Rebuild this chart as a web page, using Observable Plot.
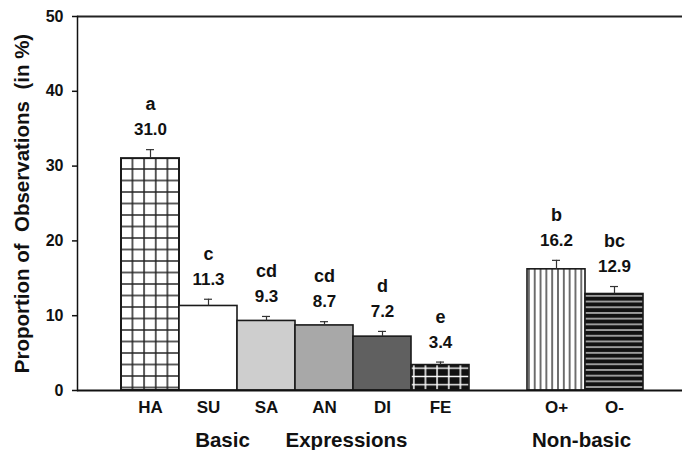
<!DOCTYPE html>
<html><head><meta charset="utf-8">
<script src="https://cdn.jsdelivr.net/npm/d3@7"></script>
<script src="https://cdn.jsdelivr.net/npm/@observablehq/plot@0.6"></script>
<style>body{margin:0;background:#fff}</style>
</head><body><div id="chart"></div>
<script>
const categories = ["HA","SU","SA","AN","DI","FE","O+","O-"];
const values = [31.0, 11.3, 9.3, 8.7, 7.2, 3.4, 16.2, 12.9];
const errors = [1.2, 0.9, 0.6, 0.5, 0.7, 0.4, 1.2, 1.0];
const letters = ["a","c","cd","cd","d","e","b","bc"];
const yTicks = [0, 10, 20, 30, 40, 50];
const yLabel = "Proportion of  Observations  (in %)";
const groupLabels = ["Basic", "Expressions", "Non-basic"];

const data = categories.map((c, i) => ({cat: c, value: values[i], err: errors[i], letter: letters[i]}));
const domain = [...categories.slice(0, 6), " ", ...categories.slice(6)];
const fillFor = {HA: "url(#p-grid)", SU: "#ffffff", SA: "#cecece", AN: "#a8a8a8", DI: "#606060",
  FE: "url(#p-dgrid)", "O+": "url(#p-vert)", "O-": "url(#p-horz)"};
const font = "'Liberation Sans', Arial, Helvetica, sans-serif";

const plot = Plot.plot({
  width: 682, height: 450,
  marginLeft: 77, marginRight: 0, marginTop: 16, marginBottom: 60,
  style: {fontFamily: font, fontWeight: "bold", color: "#111", background: "#fff", overflow: "visible"},
  x: {domain, range: [120, 644], padding: 0, axis: null},
  y: {domain: [0, 50], axis: null},
  marks: [
    ...data.map(d => Plot.barY([d], {x: "cat", y: "value", fill: fillFor[d.cat], stroke: "#1a1a1a",
      strokeWidth: d.cat === "HA" ? 2 : 1.6})),
    Plot.ruleX(data, {x: "cat", y1: "value", y2: d => d.value + d.err, stroke: "#333", strokeWidth: 1.2}),
    Plot.tickY(data, {x: "cat", y: d => d.value + d.err, insetLeft: 25, insetRight: 25, stroke: "#333", strokeWidth: 1.2}),
    Plot.text(data, {x: "cat", y: d => d.value + d.err, text: d => d.value.toFixed(1), dy: -20, fontSize: 17, fontWeight: "bold", fill: "#111"}),
    Plot.text(data, {x: "cat", y: d => d.value + d.err, text: "letter", dy: -45, fontSize: 18, fontWeight: "bold", fill: "#111"}),
    Plot.text(data, {x: "cat", y: 0, text: "cat", dy: 17, fontSize: 17, fontWeight: "bold", fill: "#111"}),
    Plot.text([groupLabels[0]], {x: () => "SU", y: 0, dx: 14, dy: 50, fontSize: 20.5, fontWeight: "bold", fill: "#111"}),
    Plot.text([groupLabels[1]], {x: () => "AN", y: 0, dx: 22, dy: 50, fontSize: 20.5, fontWeight: "bold", fill: "#111"}),
    Plot.text([groupLabels[2]], {x: () => "O+", y: 0, dx: 25, dy: 50, fontSize: 20.5, fontWeight: "bold", fill: "#111"}),
    Plot.axisY(yTicks, {tickSize: 5, tickPadding: 9, fontSize: 16, fontWeight: "bold", label: null, stroke: "#111", strokeWidth: 1.5}),
    Plot.text([yLabel], {frameAnchor: "left", textAnchor: "middle", rotate: -90, dx: -55, fontSize: 20.5, fontWeight: "bold", fill: "#111"}),
    Plot.ruleY([0], {stroke: "#111", strokeWidth: 2}),
    Plot.ruleY([50], {stroke: "#222", strokeWidth: 2}),
    Plot.frame({anchor: "left", stroke: "#111", strokeWidth: 1.5})
  ]
});

const defs = `
<pattern id="p-grid" patternUnits="userSpaceOnUse" x="115" y="163.25" width="11.65" height="11.5">
  <rect width="11.65" height="11.5" fill="#fff"/>
  <path d="M5.8,0V11.5M0,5.75H11.65" stroke="#222" stroke-width="1.5"/>
</pattern>
<pattern id="p-dgrid" patternUnits="userSpaceOnUse" x="408" y="364" width="11.65" height="8.3">
  <rect width="11.65" height="8.3" fill="#111"/>
  <path d="M5.8,0V8.3M0,4.15H11.65" stroke="#fff" stroke-width="1.5"/>
</pattern>
<pattern id="p-vert" patternUnits="userSpaceOnUse" x="526" y="0" width="5.82" height="10">
  <rect width="5.82" height="10" fill="#fff"/>
  <path d="M2.9,0V10" stroke="#111" stroke-width="1.2"/>
</pattern>
<pattern id="p-horz" patternUnits="userSpaceOnUse" x="0" y="293" width="10" height="5.7">
  <rect width="10" height="5.7" fill="#111"/>
  <path d="M0,2.85H10" stroke="#ddd" stroke-width="1.3"/>
</pattern>`;
d3.select(plot).insert("defs", ":first-child").html(defs);
d3.select(plot).selectAll("text").style("white-space", "pre");
document.getElementById("chart").appendChild(plot);
</script>
</body></html>
